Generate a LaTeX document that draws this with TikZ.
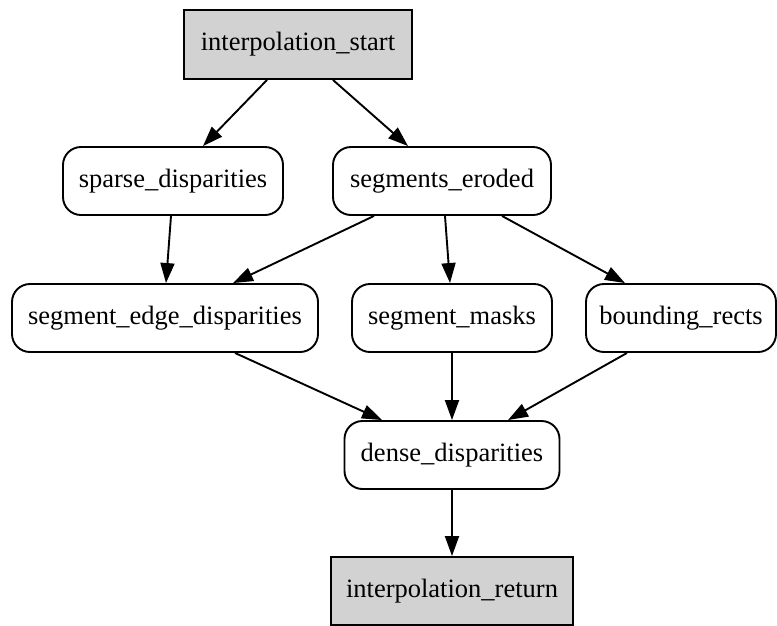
\documentclass[tikz,border=0pt]{standalone}
\usepackage{fontspec}
\setmainfont{Liberation Serif}
\usetikzlibrary{arrows.meta}
\begin{document}
\begin{tikzpicture}[x=1pt,y=-1pt,
  every node/.style={inner sep=0pt, font=\fontsize{26.5}{30}\selectfont},
  proc/.style={draw, line width=1.9pt, rounded corners=18pt, fill=white, minimum height=68pt},
  term/.style={draw, line width=1.9pt, fill=gray!35, minimum height=69pt},
  flow/.style={line width=1.9pt, -{Triangle[length=20pt,width=14pt]}}]
\useasboundingbox (0,0) rectangle (777,625);
% nodes
\node[term, minimum width=228pt] (start) at (298,44.5) {interpolation\_start};
\node[proc, minimum width=220pt] (sparse) at (173,181) {sparse\_disparities};
\node[proc, minimum width=218pt] (eroded) at (442,181) {segments\_eroded};
\node[proc, minimum width=306pt] (sed) at (165,318) {segment\_edge\_disparities};
\node[proc, minimum width=200pt] (masks) at (452,318) {segment\_masks};
\node[proc, minimum width=190pt] (rects) at (681,318) {bounding\_rects};
\node[proc, minimum width=215pt] (dense) at (452,455) {dense\_disparities};
\node[term, minimum width=242pt, minimum height=68pt] (ret) at (452,591) {interpolation\_return};
% edges
\draw[flow] ([xshift=-31pt]start.south) -- ([xshift=30pt]sparse.north);
\draw[flow] ([xshift=35pt]start.south) -- ([xshift=-34pt]eroded.north);
\draw[flow] ([xshift=-2pt]sparse.south) -- ([xshift=1pt]sed.north);
\draw[flow] ([xshift=-68pt]eroded.south) -- ([xshift=68pt]sed.north);
\draw[flow] ([xshift=3pt]eroded.south) -- ([xshift=-2pt]masks.north);
\draw[flow] ([xshift=60pt]eroded.south) -- ([xshift=-56pt]rects.north);
\draw[flow] ([xshift=70pt]sed.south) -- ([xshift=-70pt]dense.north);
\draw[flow] (masks.south) -- (dense.north);
\draw[flow] ([xshift=-54pt]rects.south) -- ([xshift=56pt]dense.north);
\draw[flow] (dense.south) -- (ret.north);
\end{tikzpicture}
\end{document}
